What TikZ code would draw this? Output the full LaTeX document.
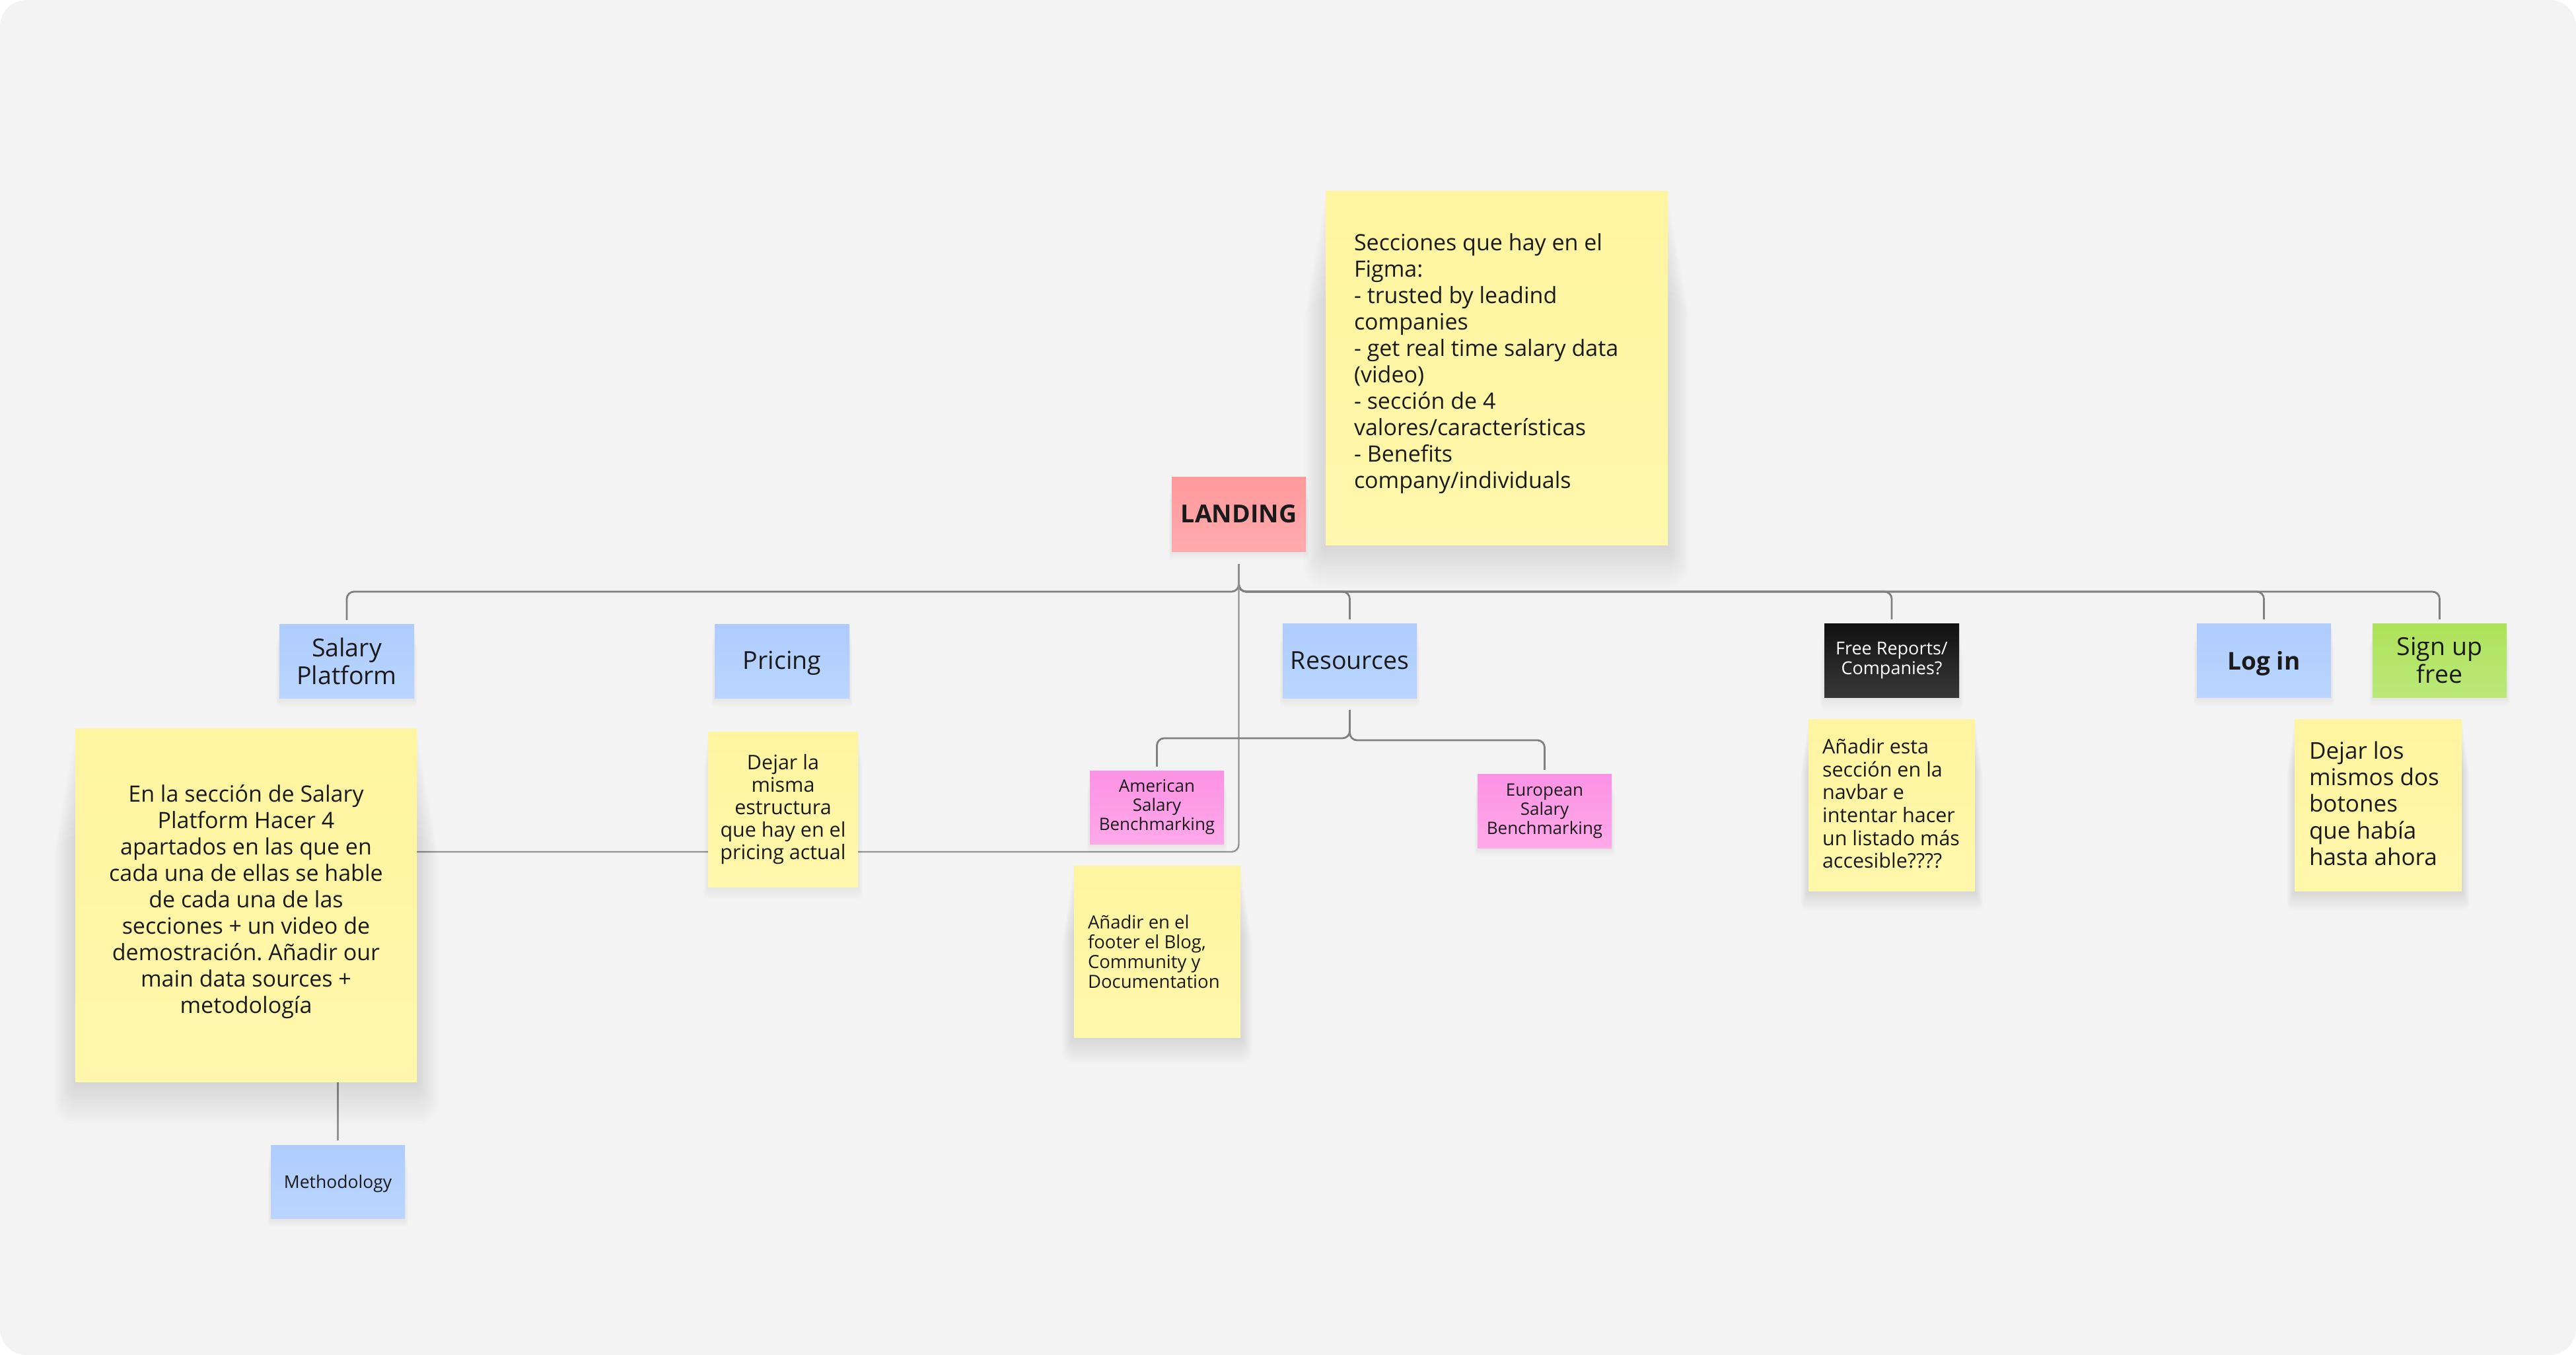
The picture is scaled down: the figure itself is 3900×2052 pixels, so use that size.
\documentclass[tikz,border=0pt]{standalone}
\usepackage{fontspec}
\setmainfont{Open Sans}
\frenchspacing
\usetikzlibrary{calc}
\pgfdeclarelayer{backlayer}
\pgfdeclarelayer{connlayer}
\pgfsetlayers{backlayer,connlayer,main}
\definecolor{inkc}{HTML}{1A1A1A}
\definecolor{linec}{HTML}{808080}
\definecolor{pagec}{HTML}{F3F3F3}
\definecolor{yellow1}{HTML}{FFF5A0}
\definecolor{yellow2}{HTML}{FFF7AB}
\definecolor{blue1}{HTML}{AECCFD}
\definecolor{blue2}{HTML}{BAD5FF}
\definecolor{pink1}{HTML}{FC92E4}
\definecolor{pink2}{HTML}{FFA9E9}
\definecolor{red1}{HTML}{FF999C}
\definecolor{red2}{HTML}{FFABAD}
\definecolor{green1}{HTML}{AFE25A}
\definecolor{green2}{HTML}{BAE97A}
\definecolor{black1}{HTML}{111111}
\definecolor{black2}{HTML}{383838}
\tikzset{
  note/.style={rectangle,inner sep=0pt,text=inkc,align=flush center},
  leftnote/.style={note,align=flush left},
  noteyellow/.style={top color=yellow1,bottom color=yellow2},
  noteblue/.style={top color=blue1,bottom color=blue2},
  notepink/.style={top color=pink1,bottom color=pink2},
  notered/.style={top color=red1,bottom color=red2},
  notegreen/.style={top color=green1,bottom color=green2},
  noteblack/.style={top color=black1,bottom color=black2,text=white},
  conn/.style={draw=linec,line width=2.8pt,rounded corners=11pt},
  thinconn/.style={draw=linec!85,line width=2.4pt,rounded corners=11pt},
}
% #1 name, #2 x0, #3 y0, #4 x1, #5 y1, #6 side spread, #7 bottom spread, #8 style, #9 text
\newcommand{\mknote}[9]{%
  \pgfmathsetmacro{\shop}{min(.0075,.003+.0001*#7)}%
  \foreach \i in {1,...,14}{%
    \fill[black,opacity=\shop,rounded corners=#6*\i/14*1pt]
      ({#2-#6*\i/14},{#3+2.5*#7*\i/14}) rectangle ({#4+#6*\i/14},{#5+#7*\i/14});
  }%
  \pgfmathsetmacro{\nw}{#4-#2}%
  \pgfmathsetmacro{\nh}{#5-#3}%
  \node[#8,minimum width=\nw pt,minimum height=\nh pt] (#1) at ({(#2+#4)/2},{(#3+#5)/2}) {#9};%
}
\newcommand{\fs}[2]{\fontsize{#1pt}{#2pt}\selectfont}
\newcommand{\lowertext}[2]{\raisebox{-#1pt}[\height][\depth]{#2}}
\begin{document}
\begin{tikzpicture}[x=1pt,y=-1pt]
\useasboundingbox (0,0) rectangle (3900,2052);
\begin{pgfonlayer}{backlayer}
  \fill[white] (0,0) rectangle (3900,2052);
  \fill[pagec,rounded corners=40pt] (0,0) rectangle (3900,2052);
\end{pgfonlayer}

\mknote{land}{1774}{722}{1977}{835}{5}{14}{note,notered,font=\fs{37.5}{42}\bfseries}{LANDING}
\mknote{sec}{2007}{290}{2525}{825}{32}{65}{leftnote,noteyellow,text width=432pt,font=\fs{34}{40}}{Secciones que hay en el\\Figma:\\- trusted by leadind\\companies\\- get real time salary data\\(video)\\- sección de 4\\valores/características\\- Benefits\\company/individuals\\[-18pt]\mbox{}}

\mknote{sp}{423}{945}{627}{1057}{5}{14}{note,noteblue,font=\fs{37.5}{42}}{Salary\\Platform}
\mknote{pr}{1082}{945}{1286}{1057}{5}{14}{note,noteblue,font=\fs{37.5}{42}}{\lowertext{3}{Pricing}}
\mknote{res}{1942}{944}{2145}{1057}{5}{14}{note,noteblue,font=\fs{37.5}{42}}{Resources}
\mknote{free}{2762}{944}{2966}{1056}{6}{20}{note,noteblack,font=\fs{27}{30}}{Free Reports/\\Companies?}
\mknote{login}{3326}{944}{3529}{1056}{5}{14}{note,noteblue,font=\fs{37}{42}\bfseries}{\lowertext{5}{Log in}}
\mknote{sign}{3592}{944}{3795}{1056}{5}{14}{note,notegreen,font=\fs{37.5}{42}}{Sign up\\free}

\mknote{big}{114}{1103}{631}{1638}{32}{65}{note,noteyellow,text width=470pt,font=\fs{34}{40}}{En la sección de Salary\\Platform Hacer 4\\apartados en las que en\\cada una de ellas se hable\\de cada una de las\\secciones + un video de\\demostración. Añadir our\\main data sources +\\metodología\\[-22pt]\mbox{}}
\mknote{prn}{1072}{1108}{1299}{1343}{7}{20}{note,noteyellow,text width=220pt,font=\fs{30.5}{34}}{Dejar la\\misma\\estructura\\que hay en el\\pricing actual}
\mknote{meth}{410}{1734}{613}{1845}{5}{14}{note,noteblue,font=\fs{26.5}{32}}{\lowertext{3}{Methodology}}

\mknote{am}{1650}{1167}{1853}{1278}{5}{14}{note,notepink,font=\fs{26}{29}}{American\\Salary\\Benchmarking}
\mknote{eu}{2237}{1172}{2440}{1284}{5}{14}{note,notepink,font=\fs{26}{29}}{European\\Salary\\Benchmarking}
\mknote{foot}{1626}{1311}{1878}{1571}{18}{40}{leftnote,noteyellow,text width=210pt,font=\fs{27.5}{30}}{Añadir en el\\footer el Blog,\\Community y\\Documentation}

\mknote{frn}{2738}{1089}{2990}{1349}{12}{30}{leftnote,noteyellow,text width=210pt,font=\fs{30.5}{34.7}}{Añadir esta\\sección en la\\navbar e\\intentar hacer\\un listado más\\accesible????\\[-29.7pt]\mbox{}}
\mknote{dej}{3474}{1089}{3727}{1349}{12}{30}{leftnote,noteyellow,text width=209pt,font=\fs{35}{40.3}}{Dejar los\\mismos dos\\botones\\que había\\hasta ahora\\[-35.3pt]\mbox{}}

\coordinate (bus) at (land.south |- 0,896);
\coordinate (bigport) at (big.east |- 0,1290);
\coordinate (resbusl) at (res.south |- 0,1118);
\coordinate (resbusr) at (res.south |- 0,1121);

\begin{pgfonlayer}{connlayer}
  \foreach \t in {sp,res,free,login,sign}{
    \draw[conn,shorten <=19pt,shorten >=6pt] (land.south) -- (bus) -| (\t.north);
  }
  \draw[thinconn,shorten <=19pt] (land.south) |- (bigport);
  \draw[conn,shorten <=18pt,shorten >=6pt] (res.south) -- (resbusl) -| (am.north);
  \draw[conn,shorten <=18pt,shorten >=6pt] (res.south) -- (resbusr) -| (eu.north);
  \draw[thinconn,shorten >=7pt] (big.south -| meth.north) -- (meth.north);
\end{pgfonlayer}
\end{tikzpicture}
\end{document}
